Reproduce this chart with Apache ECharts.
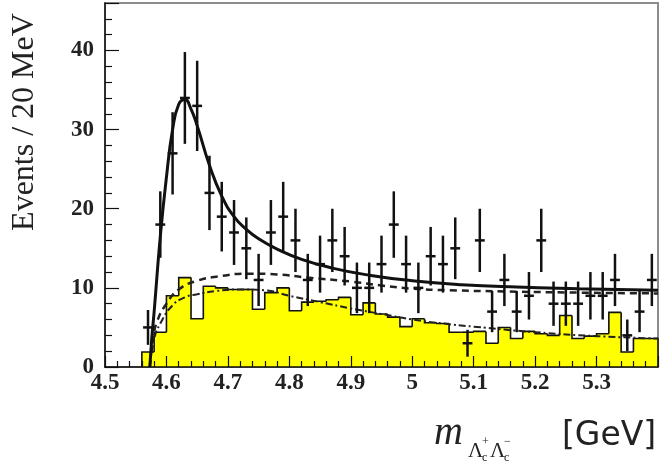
<!DOCTYPE html>
<html>
<head>
<meta charset="utf-8">
<script src="https://cdn.jsdelivr.net/npm/echarts@6/dist/echarts.min.js"></script>
<style>
html,body{margin:0;padding:0;background:#fff;}
#chart{width:661px;height:464px;}
</style>
</head>
<body>
<div id="chart"></div>
<script>
// ---- data ----
// bin centres (20 MeV bins)
const binCenters = [4.57,4.59,4.61,4.63,4.65,4.67,4.69,4.71,4.73,4.75,4.77,4.79,4.81,4.83,4.85,4.87,4.89,4.91,4.93,4.95,4.97,4.99,5.01,5.03,5.05,5.07,5.09,5.11,5.13,5.15,5.17,5.19,5.21,5.23,5.25,5.27,5.29,5.31,5.33,5.35,5.37,5.39];
// data points (events per bin) and their error bars
const events = [5,18,27,34,33,22,19,17,15,11,17,19,16,11,13,16,14,10,10,13,18,13,10,14,13,15,3,16,7,11,7,9,16,8,8,8,9,9,11,4,7,11];
const errors = [2.2,4.2,5.2,5.8,5.7,4.7,4.4,4.1,3.9,3.3,4.1,4.4,4.0,3.3,3.6,4.0,3.7,3.2,3.2,3.6,4.2,3.6,3.2,3.7,3.6,3.9,1.7,4.0,2.6,3.3,2.6,3.0,4.0,2.8,2.8,2.8,3.0,3.0,3.3,2.0,2.6,3.3];
// sideband background histogram (yellow)
const sideband = [1.9,4.4,9.0,11.3,6.1,10.2,10.0,9.8,9.8,7.3,9.4,10.0,7.1,8.2,8.3,8.5,8.8,6.6,8.1,6.7,6.3,5.1,6.1,5.6,5.5,4.4,4.4,4.5,3.0,5.0,3.6,4.5,4.2,4.0,6.5,3.6,3.9,4.2,6.9,1.9,3.6,3.6];
const binHalfWidth = 0.01;
// fit curve (solid)
const fitX = [4.573,4.576,4.58,4.59,4.60,4.61,4.62,4.63,4.64,4.65,4.67,4.69,4.71,4.73,4.75,4.78,4.82,4.87,4.93,5.00,5.08,5.17,5.27,5.40];
const fitY = [0,3.5,7,16.5,24,30,33.2,33.8,32.6,30.5,25.5,21.6,19.0,17.4,16.2,14.9,13.6,12.5,11.6,10.9,10.4,10.1,9.9,9.7];
// background curve (dashed)
const bkgX = [4.573,4.578,4.585,4.60,4.62,4.65,4.69,4.73,4.78,4.83,4.90,4.95,5.00,5.06,5.15,5.27,5.40];
const bkgY = [0,3.5,5.8,8.0,9.8,10.9,11.5,11.8,11.7,11.3,10.8,10.3,9.9,9.7,9.55,9.4,9.3];
// sideband shape curve (dash-dot)
const sbX = [4.573,4.58,4.59,4.61,4.63,4.65,4.68,4.72,4.76,4.80,4.85,4.90,4.95,5.00,5.05,5.10,5.20,5.30,5.40];
const sbY = [0,3.5,5.5,7.8,8.8,9.2,9.6,9.8,9.7,9.0,8.2,7.4,6.7,6.0,5.5,5.1,4.4,3.9,3.6];
// axis ticks
const xMin = 4.5, xMax = 5.4, xStep = 0.1;
const yMin = 0, yMax = 46, yStep = 10;

// ---- build ----
const nB = binCenters.length;
const histBars = binCenters.map((c,i)=>[c, sideband[i], i>0 ? sideband[i-1] : 0, i===nB-1 ? 1 : 0]);
const zip = (a,b)=>a.map((v,i)=>[v,b[i]]);
const pointData = binCenters.map((c,i)=>[c, events[i], errors[i]]);

const serif = 'Liberation Serif';
const txt = (text, x, y, font) => ({type:'text', x:x, y:y, z:100,
  style:{text:text, font:font, fill:'#222', align:'left', verticalAlign:'middle'}});

const chart = echarts.init(document.getElementById('chart'), null, {renderer:'canvas'});
const option = {
  animation: false,
  backgroundColor: '#fff',
  grid: {left:105, right:3, top:3, bottom:97, show:true, borderColor:'#8c8c8c', borderWidth:2, backgroundColor:'#fff'},
  xAxis: {
    type:'value', min:xMin, max:xMax, interval:xStep, z:10,
    axisLine:{show:true, onZero:false, lineStyle:{color:'#111', width:1.5}},
    axisTick:{show:true, inside:true, length:11, lineStyle:{color:'#111', width:1.2}},
    minorTick:{show:true, splitNumber:5, length:6, lineStyle:{color:'#111', width:1.2}},
    splitLine:{show:false}, minorSplitLine:{show:false},
    axisLabel:{showMaxLabel:false, fontFamily:serif, fontWeight:'bold', fontSize:23, color:'#222', margin:5,
      formatter: v => String(+(+v).toFixed(1))}
  },
  yAxis: {
    type:'value', min:yMin, max:yMax, interval:yStep, z:10,
    axisLine:{show:true, onZero:false, lineStyle:{color:'#111', width:1.5}},
    axisTick:{show:true, inside:true, length:14, lineStyle:{color:'#111', width:1.2}},
    minorTick:{show:true, splitNumber:5, length:7, lineStyle:{color:'#111', width:1.2}},
    splitLine:{show:false}, minorSplitLine:{show:false},
    axisLabel:{showMaxLabel:false, fontFamily:serif, fontWeight:'bold', fontSize:23, color:'#222', margin:11}
  },
  graphic: [
    {type:'text', x:25, y:122, rotation:Math.PI/2, z:100,
      style:{text:'Events / 20 MeV', font:'32px "Liberation Serif"', fill:'#222', align:'center', verticalAlign:'middle'}},
    txt('m', 434, 433, 'italic 40px "Liberation Serif"'),
    txt('Λ', 468, 451, '21px "Liberation Serif"'),
    txt('c', 482, 458, '12px "Liberation Serif"'),
    txt('+', 482, 442, '12px "Liberation Serif"'),
    txt('Λ', 490, 451, '21px "Liberation Serif"'),
    txt('c', 504, 458, '12px "Liberation Serif"'),
    txt('−', 504, 442, '12px "Liberation Serif"'),
    txt('[GeV]', 562, 436, '33px "DejaVu Sans"')
  ],
  series: [
    {type:'custom', name:'sideband', data:histBars, z:2, silent:true,
      renderItem:(params, api)=>{
        const c = api.value(0), v = api.value(1), prev = api.value(2), last = api.value(3);
        const tl = api.coord([c-binHalfWidth, v]);
        const br = api.coord([c+binHalfWidth, 0]);
        const pp = api.coord([c-binHalfWidth, prev]);
        const pts = [[tl[0], pp[1]], [tl[0], tl[1]], [br[0], tl[1]]];
        if (last) pts.push([br[0], br[1]]);
        return {type:'group', children:[
          {type:'rect', shape:{x:tl[0], y:tl[1], width:br[0]-tl[0]+0.6, height:br[1]-tl[1]},
            style:{fill:'#ffff00', stroke:null}},
          {type:'polyline', shape:{points:pts}, style:{fill:null, stroke:'#111', lineWidth:1.6}, z2:5}
        ]};
      }},
    {type:'line', name:'sbShape', data:zip(sbX, sbY), smooth:true, symbol:'none', z:4,
      lineStyle:{color:'#222', width:2, type:[7,3,2,3]}},
    {type:'line', name:'bkg', data:zip(bkgX, bkgY), smooth:true, symbol:'none', z:4,
      lineStyle:{color:'#222', width:2.5, type:[7,5]}},
    {type:'line', name:'fit', data:zip(fitX, fitY), smooth:true, symbol:'none', z:5,
      lineStyle:{color:'#111', width:3}},
    {type:'custom', name:'data', data:pointData, z:6,
      renderItem:(params, api)=>{
        const x = api.value(0), y = api.value(1), e = api.value(2);
        const c = api.coord([x, y]);
        const t = api.coord([x, y+e]);
        const b = api.coord([x, Math.max(0, y-e)]);
        const l = api.coord([x-0.008, y]);
        const r = api.coord([x+0.008, y]);
        const st = {stroke:'#111', lineWidth:2.5};
        return {type:'group', children:[
          {type:'line', shape:{x1:c[0], y1:t[1], x2:c[0], y2:b[1]}, style:st},
          {type:'line', shape:{x1:l[0], y1:c[1], x2:r[0], y2:c[1]}, style:st}
        ]};
      }}
  ]
};
chart.setOption(option);
</script>
</body>
</html>
